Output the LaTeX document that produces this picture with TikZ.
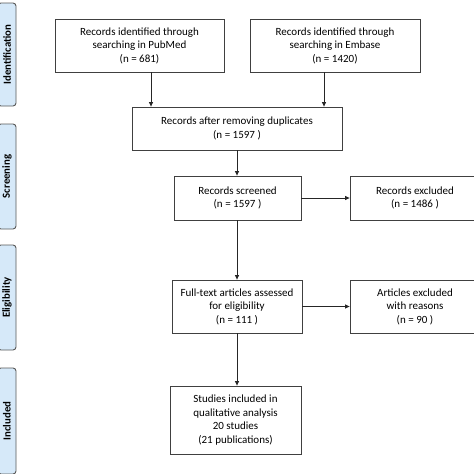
\documentclass[tikz,border=0pt]{standalone}
\usepackage{fontspec}
\setmainfont{Carlito}
\usetikzlibrary{arrows.meta}
\begin{document}
\begin{tikzpicture}[x=1pt,y=-1pt,
  box/.style={draw=black!75,line width=0.8pt,fill=white,align=center,
    font=\fontsize{11}{13.5}\selectfont,inner sep=0pt},
  phase/.style={draw=black!65,line width=0.9pt,fill={rgb,255:red,214;green,233;blue,249},
    rounded corners=3pt,rotate=90,font=\bfseries\fontsize{10.8}{12}\selectfont,
    minimum height=18pt,inner sep=0pt},
  conn/.style={-{Triangle[length=4.5pt,width=4pt]},line width=0.8pt,black!85}]
\useasboundingbox (0,0) rectangle (474,474);
\clip (0,0) rectangle (474,474);
\fill[white] (0,0) rectangle (474,474);

% phase labels
\node[phase,minimum width=103pt] (pid) at (7,54.5) {Identification};
\node[phase,minimum width=105pt] (psc) at (7,176.5) {Screening};
\node[phase,minimum width=105pt] (pel) at (7,297.5) {Eligibility};
\node[phase,minimum width=106pt] (pin) at (7,421) {Included};

% boxes
\node[box,minimum width=169pt,minimum height=53pt] (pub) at (139.5,45.5)
  {Records identified through\\searching in PubMed\\(n = 681)};
\node[box,minimum width=170pt,minimum height=53pt] (emb) at (335,45.5)
  {Records identified through\\searching in Embase\\(n = 1420)};
\node[box,minimum width=210pt,minimum height=43pt] (dup) at (237,128.5)
  {Records after removing duplicates\\(n = 1597 )};
\node[box,minimum width=127pt,minimum height=44pt] (scr) at (237.5,198)
  {Records screened\\(n = 1597 )};
\node[box,minimum width=130pt,minimum height=44pt] (exc) at (415,198)
  {Records excluded\\(n = 1486 )};
\node[box,minimum width=130pt,minimum height=53pt] (ful) at (237,306.5)
  {Full-text articles assessed\\for eligibility\\(n = 111 )};
\node[box,minimum width=130pt,minimum height=53pt] (art) at (415,306.5)
  {Articles excluded\\with reasons\\(n = 90 )};
\node[box,minimum width=131pt,minimum height=68pt] (inc) at (235.5,420)
  {Studies included in\\qualitative analysis\\20 studies\\(21 publications)};

% connectors
\draw[conn] (pub.south -| 151,0) -- (dup.north -| 151,0);
\draw[conn] (emb.south -| 324,0) -- (dup.north -| 324,0);
\draw[conn] (dup.south -| 237,0) -- (scr.north -| 237,0);
\draw[conn] (scr.east) -- (exc.west);
\draw[conn] (scr.south -| 237,0) -- (ful.north -| 237,0);
\draw[conn] (ful.east) -- (art.west);
\draw[conn] (ful.south -| 237,0) -- (inc.north -| 237,0);
\end{tikzpicture}
\end{document}
